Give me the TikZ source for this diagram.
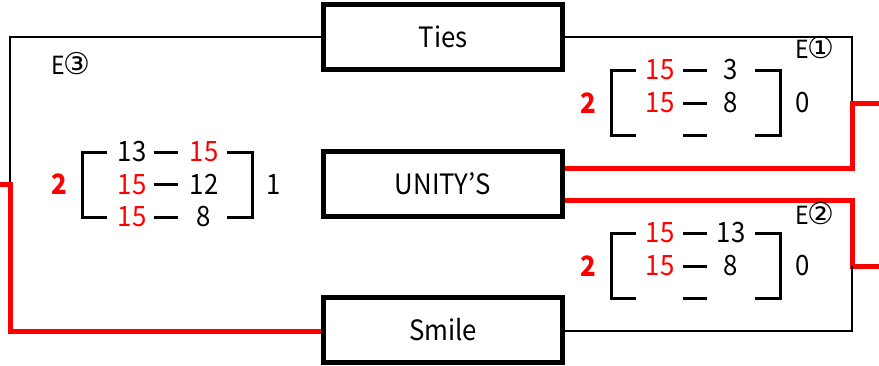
\documentclass[tikz,border=0pt]{standalone}
\usepackage{fontspec}
\usetikzlibrary{calc}
\setmainfont[FakeStretch=0.92]{Noto Sans CJK JP}
\newfontfamily\circfont{DejaVu Sans}
\begin{document}
\begin{tikzpicture}[x=1pt,y=-1pt,
  team/.style={draw, line width=5pt, minimum width=239pt, minimum height=65pt, inner sep=0pt, font=\fontsize{28}{30}\selectfont},
  lbl/.style={inner sep=0pt, font=\fontsize{28}{30}\selectfont},
  win/.style={lbl, text=red},
  wscore/.style={win, font=\fontsize{28}{30}\selectfont\bfseries},
  elbl/.style={inner sep=0pt, font=\fontsize{25}{28}\selectfont},
  conn/.style={line width=2.6pt},
  wconn/.style={line width=5pt, red},
  brk/.style={line width=3pt}]
\newcommand\circnum[1]{{\circfont\fontsize{30}{30}\selectfont #1}}
\useasboundingbox (0,0) rectangle (879,365);
% teams
\node[team] (ties) at (443,37) {Ties};
\node[team] (unity) at (443,184) {UNITY’S};
\node[team] (smile) at (443,330) {Smile};
% helper coordinates
\coordinate (lt) at (10,37);
\coordinate (lm) at (10,184);
\coordinate (lin) at (0,184);
\coordinate (lb) at (10,331);
\coordinate (rt) at (852,37);
\coordinate (r1) at (852,103);
\coordinate (r1o) at (879,103);
\coordinate (ua) at ($(unity.east)+(0,-16)$);
\coordinate (ub) at ($(unity.east)+(0,16.5)$);
\coordinate (r2) at (852,266);
\coordinate (r2o) at (879,266);
\coordinate (rb) at (852,331);
% connectors
\draw[conn] (ties.west) -- (lt) -- (lm);
\draw[wconn] (lin) -- (lm) -- (lb) -- (smile.west |- lb);
\draw[conn] (ties.east) -- (rt) -- (r1);
\draw[wconn] (r1o) -- (r1) -- (ua -| r1) -- (ua);
\draw[wconn] (ub) -- (ub -| r2) -- (r2) -- (r2o);
\draw[conn] (r2) -- (rb) -- (smile.east |- rb);
% E labels
\node[elbl, anchor=base] (e3) at (71,74) {E\kern-1pt\circnum{③}};
\node[elbl, anchor=base] (e1) at (815,58) {E\kern-1pt\circnum{①}};
\node[elbl, anchor=base] (e2) at (815,224) {E\kern-1pt\circnum{②}};
% left block (bx=82; rows 152,184.5,217)
\draw[brk] (107,152) -- (82,152) -- (82,217) -- (107,217);
\draw[brk] (227,152) -- (252,152) -- (252,217) -- (227,217);
\foreach \y in {152,184.5,217} \draw[brk] (154,\y) -- (178,\y);
\node[lbl] (l11) at (132,152) {13};
\node[win] (l12) at (204,152) {15};
\node[win] (l21) at (132,184.5) {15};
\node[lbl] (l22) at (204,184.5) {12};
\node[win] (l31) at (132,217) {15};
\node[lbl] (l32) at (204,217) {8};
\node[wscore] (ls) at (59,184.5) {2};
\node[lbl] (rs) at (274,184.5) {1};
% right block 1 (bx=611; rows 70,103,135)
\draw[brk] (636,70) -- (611,70) -- (611,135) -- (636,135);
\draw[brk] (755,70) -- (780,70) -- (780,135) -- (755,135);
\foreach \y in {70,103,135} \draw[brk] (683,\y) -- (707,\y);
\node[win] (a11) at (660,70) {15};
\node[lbl] (a12) at (731,70) {3};
\node[win] (a21) at (660,103) {15};
\node[lbl] (a22) at (731,103) {8};
\node[wscore] (as) at (588,103) {2};
\node[lbl] (ar) at (803,103) {0};
% right block 2 (bx=611; rows 233,266,298)
\draw[brk] (636,233) -- (611,233) -- (611,298) -- (636,298);
\draw[brk] (755,233) -- (780,233) -- (780,298) -- (755,298);
\foreach \y in {233,266,298} \draw[brk] (683,\y) -- (707,\y);
\node[win] (b11) at (660,233) {15};
\node[lbl] (b12) at (731,233) {13};
\node[win] (b21) at (660,266) {15};
\node[lbl] (b22) at (731,266) {8};
\node[wscore] (bs) at (588,266) {2};
\node[lbl] (br) at (803,266) {0};
\end{tikzpicture}
\end{document}
